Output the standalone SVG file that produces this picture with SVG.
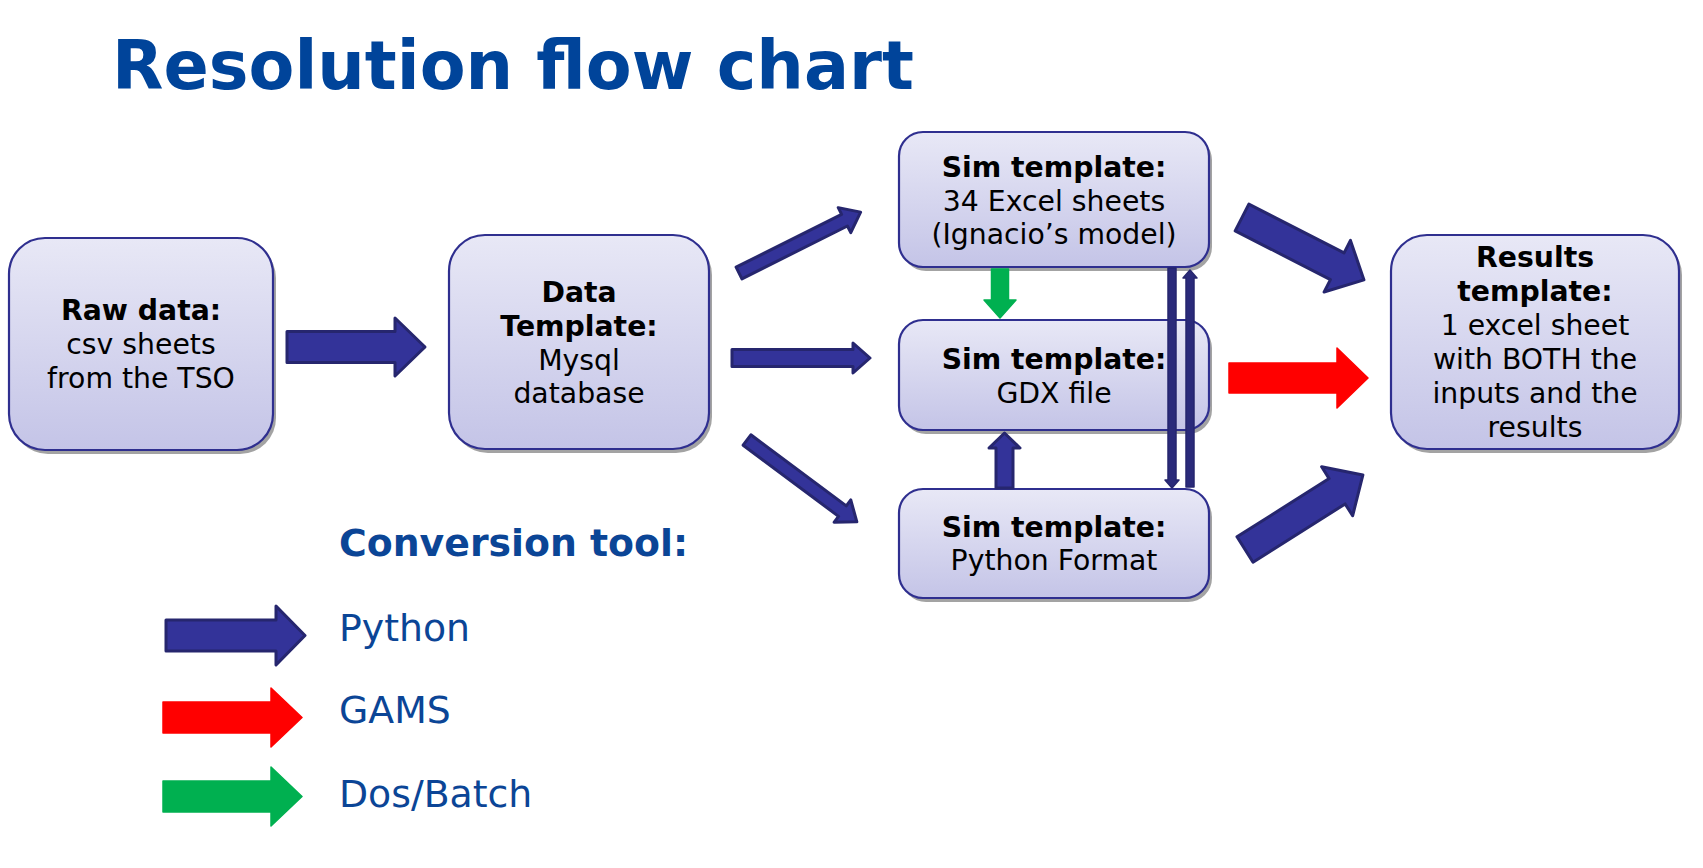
<svg xmlns="http://www.w3.org/2000/svg" width="1703" height="868" viewBox="0 0 1703 868">
<defs>
<linearGradient id="boxGrad" x1="0" y1="0" x2="0" y2="1">
<stop offset="0" stop-color="#e8e8f6"/>
<stop offset="1" stop-color="#c4c4e7"/>
</linearGradient>
</defs>
<style>
.box{fill:url(#boxGrad);stroke:#2f2f8f;stroke-width:2.2}
.shadow{fill:#a3a3a3}
.t{font-family:"DejaVu Sans",Verdana,sans-serif;font-size:28.3px;fill:#000;text-anchor:middle}
.b{font-weight:bold}
.py{fill:#333399;stroke:#26266e;stroke-width:3;stroke-linejoin:round}
.pyt{fill:#2a2a7a;stroke:#26266e;stroke-width:1.5;stroke-linejoin:round}
.gams{fill:#ff0000;stroke:#ff0000;stroke-width:1.5;stroke-linejoin:round}
.dos{fill:#00b050;stroke:#00b050;stroke-width:1.5;stroke-linejoin:round}
.title{font-family:"DejaVu Sans",Verdana,sans-serif;font-weight:bold;font-size:66.8px;fill:#00449a}
.leg{font-family:"DejaVu Sans",Verdana,sans-serif;font-size:37.8px;fill:#0b4596}
</style>
<rect width="1703" height="868" fill="#ffffff"/>
<text class="title" x="112" y="89">Resolution flow chart</text>

<g id="raw-data">
<rect class="shadow" x="12" y="242" width="264" height="212" rx="36"/>
<rect class="box" x="9" y="238" width="264" height="212" rx="36"/>
<text class="t" x="141" y="320"><tspan class="b">Raw data:</tspan><tspan x="141" dy="34">csv sheets</tspan><tspan x="141" dy="34">from the TSO</tspan></text>
</g>

<g id="data-template">
<rect class="shadow" x="452" y="239" width="260" height="214" rx="36"/>
<rect class="box" x="449" y="235" width="260" height="214" rx="36"/>
<text class="t" x="579" y="302"><tspan class="b">Data</tspan><tspan class="b" x="579" dy="34">Template:</tspan><tspan x="579" dy="34">Mysql</tspan><tspan x="579" dy="33">database</tspan></text>
</g>

<g id="sim-excel">
<rect class="shadow" x="902" y="136" width="310" height="135" rx="24"/>
<rect class="box" x="899" y="132" width="310" height="135" rx="24"/>
<text class="t" x="1054" y="177"><tspan class="b">Sim template:</tspan><tspan x="1054" dy="34">34 Excel sheets</tspan><tspan x="1054" dy="33">(Ignacio’s model)</tspan></text>
</g>

<g id="sim-gdx">
<rect class="shadow" x="902" y="324" width="310" height="110" rx="24"/>
<rect class="box" x="899" y="320" width="310" height="110" rx="24"/>
<text class="t" x="1054" y="369"><tspan class="b">Sim template:</tspan><tspan x="1054" dy="34">GDX file</tspan></text>
</g>

<g id="sim-python">
<rect class="shadow" x="902" y="493" width="310" height="109" rx="24"/>
<rect class="box" x="899" y="489" width="310" height="109" rx="24"/>
<text class="t" x="1054" y="537"><tspan class="b">Sim template:</tspan><tspan x="1054" dy="33">Python Format</tspan></text>
</g>

<g id="results-template">
<rect class="shadow" x="1394" y="239" width="288" height="214" rx="36"/>
<rect class="box" x="1391" y="235" width="288" height="214" rx="36"/>
<text class="t" x="1535" y="267"><tspan class="b">Results</tspan><tspan class="b" x="1535" dy="34">template:</tspan><tspan x="1535" dy="34">1 excel sheet</tspan><tspan x="1535" dy="34">with BOTH the</tspan><tspan x="1535" dy="34">inputs and the</tspan><tspan x="1535" dy="34">results</tspan></text>
</g>

<g id="connectors">
<path class="py" transform="translate(287,347)" d="M0,-15.5 H108 V-29 L138,0 L108,29 V15.5 H0 Z"/>
<path class="py" transform="translate(739,273) rotate(-26.6)" d="M0,-6.5 H118 V-14 L136,0 L118,14 V6.5 H0 Z"/>
<path class="py" transform="translate(732,358)" d="M0,-8.5 H121 V-15 L138,0 L121,15 V8.5 H0 Z"/>
<path class="py" transform="translate(747,440) rotate(36.7)" d="M0,-6.5 H119 V-14 L137,0 L119,14 V6.5 H0 Z"/>
<path class="dos" transform="translate(1000,269) rotate(90)" d="M0,-8.5 H31 V-16 L49,0 L31,16 V8.5 H0 Z"/>
<path class="py" transform="translate(1004.5,488) rotate(-90)" d="M0,-8.5 H40 V-15.5 L55,0 L40,15.5 V8.5 H0 Z"/>
<path class="pyt" transform="translate(1172,268) rotate(90)" d="M0,-4 H212 V-7 L220,0 L212,7 V4 H0 Z"/>
<path class="pyt" transform="translate(1190,487) rotate(-90)" d="M0,-4 H209 V-7 L217,0 L209,7 V4 H0 Z"/>
<path class="py" transform="translate(1242,217.5) rotate(27.1)" d="M0,-15 H107 V-29 L137,0 L107,29 V15 H0 Z"/>
<path class="gams" transform="translate(1229,378)" d="M0,-15 H108 V-30 L139,0 L108,30 V15 H0 Z"/>
<path class="py" transform="translate(1245,549.5) rotate(-32.3)" d="M0,-15 H109 V-29 L139.5,0 L109,29 V15 H0 Z"/>
</g>

<g id="legend">
<text class="leg" x="339" y="556" font-weight="bold">Conversion tool:</text>
<path class="py" transform="translate(166,635.5)" d="M0,-15.5 H110 V-29.5 L139,0 L110,29.5 V15.5 H0 Z"/>
<text class="leg" x="339" y="641">Python</text>
<path class="gams" transform="translate(163,717.5)" d="M0,-15.5 H108 V-29.5 L139,0 L108,29.5 V15.5 H0 Z"/>
<text class="leg" x="339" y="723">GAMS</text>
<path class="dos" transform="translate(163,796.5)" d="M0,-15.5 H108 V-29.5 L139,0 L108,29.5 V15.5 H0 Z"/>
<text class="leg" x="339" y="807">Dos/Batch</text>
</g>
</svg>
